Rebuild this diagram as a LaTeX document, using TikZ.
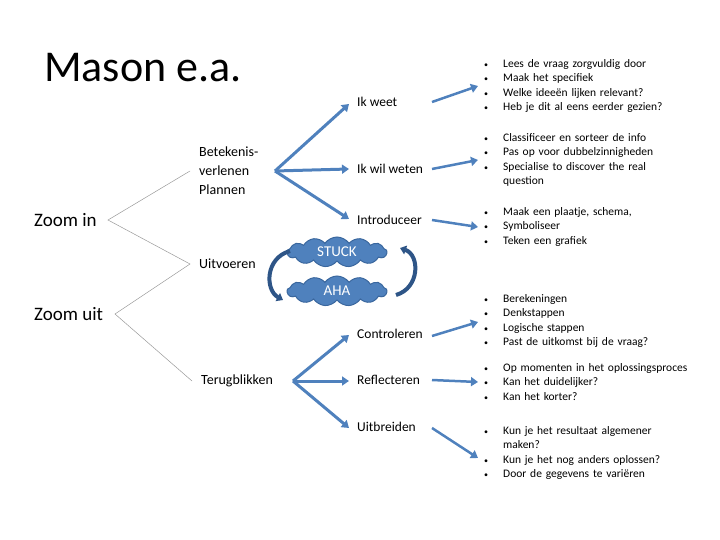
\documentclass[tikz,border=0pt]{standalone}
\usepackage{fontspec}
\setmainfont{Carlito}
\usetikzlibrary{shapes.symbols,arrows.meta}
\definecolor{ab}{HTML}{4F81BD}
\definecolor{cb}{HTML}{3A679E}
\definecolor{db}{HTML}{2E5587}
\newcommand{\bu}{\makebox[19pt][l]{\fontsize{8}{14.5}\selectfont•}}
\begin{document}
\begin{tikzpicture}[x=1pt,y=-1pt,
 gl/.style={draw=gray!80,line width=0.5pt},
 ba/.style={draw=ab,line width=3pt,-{Triangle[length=7pt,width=9pt]}},
 lbl/.style={anchor=west,font=\fontsize{13.5}{15}\selectfont,inner sep=0},
 bl/.style={anchor=north west,font=\fontsize{11.5}{14.5}\selectfont,inner sep=0,align=left,text width=220pt},
 cl/.style={cloud,cloud puffs=13,cloud puff arc=110,aspect=3.6,fill=ab,draw=cb,line width=1pt,text=white,font=\fontsize{15}{17}\selectfont,minimum width=100pt,minimum height=30pt,inner sep=0}]
\useasboundingbox (0,0) rectangle (720,540);
\node[anchor=west,font=\fontsize{44}{48}\selectfont,inner sep=0] (t) at (44,68) {Mason e.a.};
\node[anchor=west,font=\fontsize{19}{22}\selectfont,inner sep=0] (zi) at (34,220) {Zoom in};
\node[anchor=west,font=\fontsize{19}{22}\selectfont,inner sep=0] (zu) at (34,314) {Zoom uit};
\node[anchor=west,font=\fontsize{14}{19}\selectfont,inner sep=0,align=left] (bp) at (199,171) {Betekenis-\\verlenen\\Plannen};
\node[anchor=west,font=\fontsize{14}{16}\selectfont,inner sep=0] (uv) at (199,264) {Uitvoeren};
\node[anchor=west,font=\fontsize{14}{16}\selectfont,inner sep=0] (tb) at (201,381) {Terugblikken};
\coordinate (zir) at (108,220);
\coordinate (zur) at (115,314);
\coordinate (bpl) at (190,171);
\coordinate (uvl) at (190,264);
\coordinate (tbl) at (192,381);
\draw[gl] (bpl) -- (zir) -- (uvl) -- (zur) -- (tbl);
\node[lbl] (a1) at (357,102) {Ik weet};
\node[lbl] (a2) at (357,169) {Ik wil weten};
\node[lbl] (a3) at (357,220) {Introduceer};
\node[lbl] (b1) at (357,334) {Controleren};
\node[lbl] (b2) at (357,380) {Reflecteren};
\node[lbl] (b3) at (357,427) {Uitbreiden};
\coordinate (bpr) at (275,171);
\coordinate (tbr) at (293,381);
\draw[ba] (bpr) -- (349,104);
\draw[ba] (bpr) -- (349,169);
\draw[ba] (bpr) -- (349,219);
\draw[ba] (tbr) -- (349,335);
\draw[ba] (tbr) -- (349,381);
\draw[ba] (tbr) -- ++(56,47);
\foreach \n/\y/\e in {a1/102/86,a2/169/160,a3/220/227,b1/336/322,b2/380/382,b3/428/458}{
 \draw[ba,line width=2.5pt] (432,\y) -- (478,\e);}
\node[cl] (st) at (337,252) {STUCK};
\node[cl] (ah) at (337,291) {AHA};
\draw[db,line width=4pt,-{Triangle[length=6pt,width=9pt]}] (290,251) .. controls (265,258) and (265,290) .. (283,300);
\draw[db,line width=4pt,-{Triangle[length=6pt,width=9pt]}] (396,295) .. controls (420,288) and (420,255) .. (400,248);
\node[bl] (l1) at (484,59) {\bu Lees de vraag zorgvuldig door\\\bu Maak het specifiek\\\bu Welke ideeën lijken relevant?\\\bu Heb je dit al eens eerder gezien?};
\node[bl] (l2) at (484,133) {\bu Classificeer en sorteer de info\\\bu Pas op voor dubbelzinnigheden\\\bu Specialise to discover the real\\\hspace{19pt}question};
\node[bl] (l3) at (484,207) {\bu Maak een plaatje, schema,\\\bu Symboliseer\\\bu Teken een grafiek};
\node[bl] (l4) at (484,294) {\bu Berekeningen\\\bu Denkstappen\\\bu Logische stappen\\\bu Past de uitkomst bij de vraag?};
\node[bl] (l5) at (484,363) {\bu Op momenten in het oplossingsproces\\\bu Kan het duidelijker?\\\bu Kan het korter?};
\node[bl] (l6) at (484,426) {\bu Kun je het resultaat algemener\\\hspace{19pt}maken?\\\bu Kun je het nog anders oplossen?\\\bu Door de gegevens te variëren};
\end{tikzpicture}
\end{document}
